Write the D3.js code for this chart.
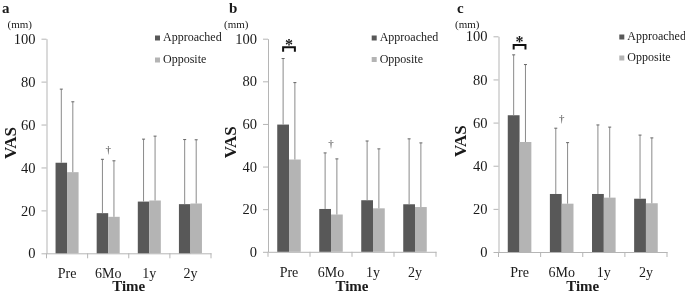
<!DOCTYPE html>
<html>
<head>
<meta charset="utf-8">
<script src="https://cdn.jsdelivr.net/npm/d3@7/dist/d3.min.js"></script>
<style>
  html, body { margin: 0; padding: 0; background: #fff; }
  svg { display: block; will-change: transform; }
</style>
</head>
<body>
<svg id="chart" width="685" height="294"></svg>
<script>
// ---- data ----
const categories = ["Pre", "6Mo", "1y", "2y"];
const seriesNames = ["Approached", "Opposite"];
const yTicks = [0, 20, 40, 60, 80, 100];
const panelLabels = ["a", "b", "c"];

// panel a
const approachedMeanA = [42.2, 18.7, 24.1, 22.9];
const approachedSdA   = [34.3, 25.1, 29.1, 30.1];
const oppositeMeanA   = [37.8, 17.0, 24.6, 23.2];
const oppositeSdA     = [32.8, 26.1, 30.0, 29.7];
// panel b
const approachedMeanB = [59.7, 20.1, 24.2, 22.3];
const approachedSdB   = [31.0, 26.3, 27.8, 30.7];
const oppositeMeanB   = [43.3, 17.5, 20.4, 21.0];
const oppositeSdB     = [36.1, 26.1, 27.9, 30.1];
// panel c
const approachedMeanC = [63.4, 26.9, 26.9, 24.7];
const approachedSdC   = [28.0, 30.5, 32.0, 29.5];
const oppositeMeanC   = [51.0, 22.4, 25.2, 22.6];
const oppositeSdC     = [35.9, 28.3, 32.7, 30.3];

// significance marks
const starCategoryA = null,  daggerCategoryA = "6Mo";
const starCategoryB = "Pre", daggerCategoryB = "6Mo";
const starCategoryC = "Pre", daggerCategoryC = "6Mo";

// ---- layout ----
const FONT = '"Liberation Serif", "Tinos", "Times New Roman", "DejaVu Serif", serif';
const layouts = [
  { left: 46.5, right: 211, top: 38.7, bottom: 253.3, labelX: 2,   mmX: 7.5,  vasX: 10,  legX: 155,   legY1: 41, legY2: 63 },
  { left: 268,  right: 436, top: 38.7, bottom: 251.8, labelX: 229, mmX: 224,  vasX: 230, legX: 371.7, legY1: 41, legY2: 62.5 },
  { left: 498.5,right: 667, top: 36.3, bottom: 252,   labelX: 457, mmX: 455,  vasX: 460, legX: 619.3, legY1: 40, legY2: 61 }
];

const panelsData = [
  { app: approachedMeanA, appSd: approachedSdA, opp: oppositeMeanA, oppSd: oppositeSdA, star: starCategoryA, dagger: daggerCategoryA },
  { app: approachedMeanB, appSd: approachedSdB, opp: oppositeMeanB, oppSd: oppositeSdB, star: starCategoryB, dagger: daggerCategoryB },
  { app: approachedMeanC, appSd: approachedSdC, opp: oppositeMeanC, oppSd: oppositeSdC, star: starCategoryC, dagger: daggerCategoryC }
];

const colors = { Approached: "#585858", Opposite: "#b4b4b4" };
const axisColor = "#b5b5b5";
const errColor = "#8a8a8a";

const svg = d3.select("#chart");

function txt(sel) {
  return sel.style("font-family", FONT).attr("fill", "#1a1a1a");
}

panelsData.forEach((pd, i) => {
  const L = layouts[i];
  const g = svg.append("g").attr("font-family", FONT);

  const x = d3.scaleBand().domain(categories).range([L.left, L.right])
    .paddingInner(0.44).paddingOuter(0.22);
  const xs = d3.scaleBand().domain(seriesNames).range([0, x.bandwidth()]);
  const y = d3.scaleLinear().domain([0, 100]).range([L.bottom, L.top]);

  // y axis
  const yAxis = g.append("g").attr("transform", `translate(${L.left},0)`)
    .call(d3.axisLeft(y).tickValues(yTicks).tickSize(5).tickPadding(6).tickSizeOuter(0));
  yAxis.attr("font-family", FONT);
  yAxis.select(".domain").attr("stroke", axisColor);
  yAxis.selectAll(".tick line").attr("stroke", axisColor);
  txt(yAxis.selectAll(".tick text")).attr("font-size", 14.5);

  // x axis
  const xAxis = g.append("g").attr("transform", `translate(0,${L.bottom})`)
    .call(d3.axisBottom(x).tickSize(0).tickPadding(15).tickSizeOuter(0));
  xAxis.attr("font-family", FONT);
  xAxis.select(".domain").attr("stroke", axisColor);
  txt(xAxis.selectAll(".tick text")).attr("font-size", 14);
  const step = x.step();
  const bounds = d3.range(categories.length + 1).map(k => L.left + k * step);
  g.selectAll(".xbound").data(bounds).enter().append("line")
    .attr("x1", d => d).attr("x2", d => d)
    .attr("y1", L.bottom).attr("y2", L.bottom + 5)
    .attr("stroke", axisColor);

  // bars
  const rows = [];
  categories.forEach((c, k) => {
    rows.push({ cat: c, s: "Approached", v: pd.app[k], sd: pd.appSd[k] });
    rows.push({ cat: c, s: "Opposite", v: pd.opp[k], sd: pd.oppSd[k] });
  });

  g.selectAll(".bar").data(rows).enter().append("rect")
    .attr("x", d => x(d.cat) + xs(d.s))
    .attr("y", d => y(d.v))
    .attr("width", xs.bandwidth())
    .attr("height", d => y(0) - y(d.v))
    .attr("fill", d => colors[d.s]);

  // error bars
  const cx = d => x(d.cat) + xs(d.s) + xs.bandwidth() / 2;
  g.selectAll(".err").data(rows).enter().append("line")
    .attr("x1", cx).attr("x2", cx)
    .attr("y1", d => y(d.v)).attr("y2", d => y(d.v + d.sd))
    .attr("stroke", errColor).attr("stroke-width", 1);
  g.selectAll(".cap").data(rows).enter().append("line")
    .attr("x1", d => cx(d) - 1.5).attr("x2", d => cx(d) + 1.5)
    .attr("y1", d => y(d.v + d.sd)).attr("y2", d => y(d.v + d.sd))
    .attr("stroke", "#666").attr("stroke-width", 1);

  // star bracket
  if (pd.star) {
    const xa = x(pd.star) + xs("Approached") + xs.bandwidth() / 2;
    const xo = x(pd.star) + xs("Opposite") + xs.bandwidth() / 2;
    const by = y(96);
    g.append("path")
      .attr("d", `M${xa},${by + 4.5}V${by}H${xo}V${by + 4.5}`)
      .attr("fill", "none").attr("stroke", "#111").attr("stroke-width", 2);
    txt(g.append("text")).attr("x", (xa + xo) / 2).attr("y", by + 2.5)
      .attr("text-anchor", "middle").attr("font-size", 16).attr("font-weight", "bold")
      .text("*");
  }
  // dagger
  if (pd.dagger) {
    const k = categories.indexOf(pd.dagger);
    const top = y(pd.app[k] + pd.appSd[k]);
    txt(g.append("text")).attr("x", x(pd.dagger) + x.bandwidth() / 2).attr("y", top - 6)
      .attr("text-anchor", "middle").attr("font-size", 11).attr("fill", "#444")
      .text("\u2020");
  }

  // legend
  const leg = [[seriesNames[0], L.legY1], [seriesNames[1], L.legY2]];
  leg.forEach(([name, ly]) => {
    g.append("rect").attr("x", L.legX).attr("y", ly - 5.5).attr("width", 5).attr("height", 5)
      .attr("fill", colors[name]);
    txt(g.append("text")).attr("x", L.legX + 8).attr("y", ly).attr("font-size", 12).text(name);
  });

  // labels
  txt(g.append("text")).attr("x", L.labelX).attr("y", 13).attr("font-size", 15)
    .attr("font-weight", "bold").text(panelLabels[i]);
  txt(g.append("text")).attr("x", L.mmX).attr("y", 28).attr("font-size", 11).text("(mm)");
  txt(g.append("text")).attr("transform", `translate(${L.vasX + 6},${(L.top + L.bottom) / 2 - 3}) rotate(-90)`)
    .attr("text-anchor", "middle").attr("font-size", 17).attr("font-weight", "bold").text("VAS");
  txt(g.append("text")).attr("x", (L.left + L.right) / 2).attr("y", 291)
    .attr("text-anchor", "middle").attr("font-size", 15).attr("font-weight", "bold").text("Time");
});
</script>
</body>
</html>
